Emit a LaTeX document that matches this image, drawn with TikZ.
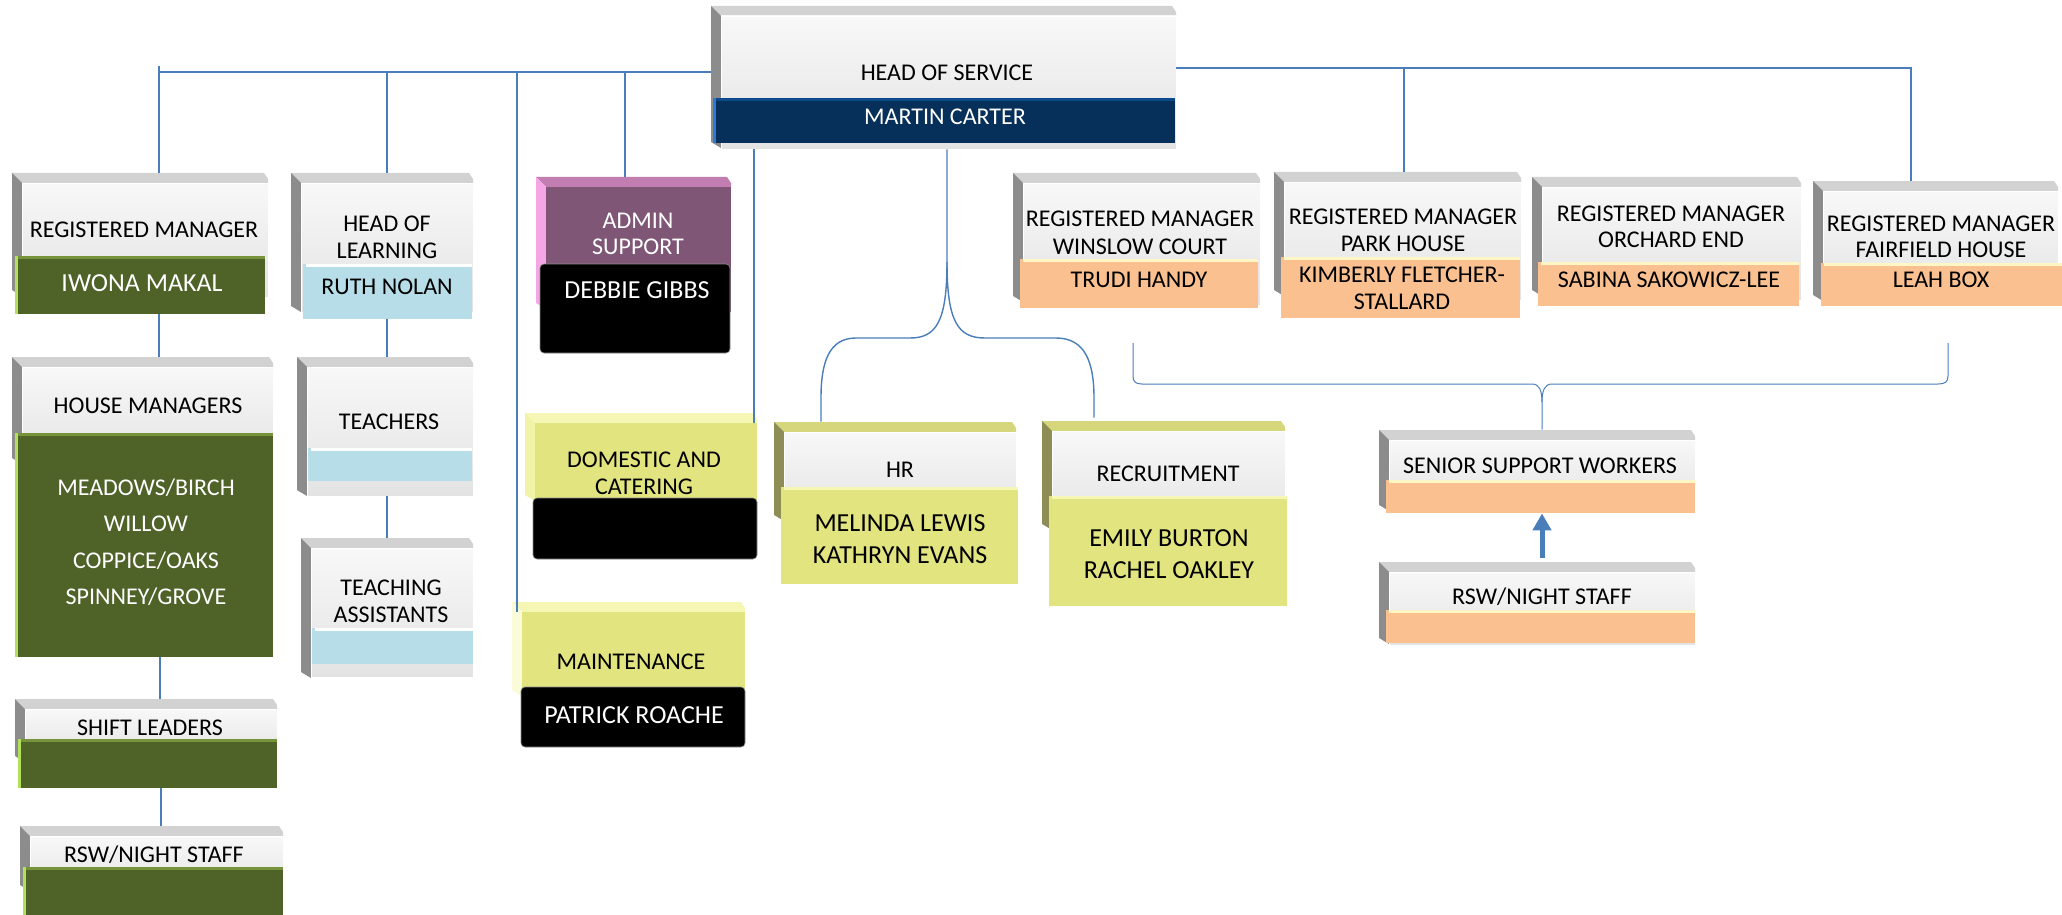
\documentclass[tikz,border=0pt]{standalone}
\usepackage{fontspec}
\setmainfont{Carlito}
\usetikzlibrary{fit,arrows.meta}

\definecolor{cLine}{HTML}{4A7EBB}
\definecolor{cGreen}{HTML}{4F6228}
\definecolor{cGreenTop}{HTML}{77933C}
\definecolor{cGreenEdge}{HTML}{B3E05C}
\definecolor{cBlue}{HTML}{B7DEE8}
\definecolor{cOrange}{HTML}{FAC090}
\definecolor{cOrangeTop}{HTML}{FFF6C6}
\definecolor{cYellow}{HTML}{E2E47F}
\definecolor{cYellowTop}{HTML}{F6F7B4}
\definecolor{cYellowSide}{HTML}{F1F3A6}
\definecolor{cYellowPale}{HTML}{FAFBD8}
\definecolor{cNavy}{HTML}{06305A}
\definecolor{cNavyTop}{HTML}{0C4A8A}
\definecolor{cNavyEdge}{HTML}{2B7BD6}
\definecolor{cPurple}{HTML}{7F5676}
\definecolor{cPinkTop}{HTML}{C27EB1}
\definecolor{cPinkSide}{HTML}{F5A6E6}
\definecolor{cBevTop}{HTML}{D2D2D2}
\definecolor{cBevSide}{HTML}{8C8C8C}
\definecolor{cOliveTop}{HTML}{D6D67C}
\definecolor{cOliveSide}{HTML}{8E8D55}
\definecolor{cFaceTop}{HTML}{F8F8F8}
\definecolor{cFaceBot}{HTML}{E3E3E3}

\tikzset{
  bevtop/.style={fill=cBevTop},
  bevside/.style={fill=cBevSide},
  face/.style={top color=cFaceTop, bottom color=cFaceBot, draw=white, line width=0.4pt},
  bandstyle/.style n args={3}{fill=#1, path picture={
      \fill[#2] (path picture bounding box.north west) rectangle ([yshift=-1.5pt]path picture bounding box.north east);
      \fill[#3] (path picture bounding box.north west) rectangle ([xshift=1.6pt]path picture bounding box.south west);}},
  greenband/.style={bandstyle={cGreen}{cGreenTop}{cGreenEdge}},
  blueband/.style={bandstyle={cBlue}{white}{cBlue}},
  orangeband/.style={bandstyle={cOrange}{cOrangeTop}{cOrange}},
  yellowband/.style={bandstyle={cYellow}{cYellowTop}{cYellow}},
  navyband/.style={bandstyle={cNavy}{cNavyTop}{cNavyEdge}},
  blackband/.style={fill=black, rounded corners=2pt, draw=black!45, line width=0.3pt},
  conn/.style={draw=cLine, line width=0.7pt},
  thinconn/.style={draw=cLine, line width=0.5pt},
  txt/.style={inner sep=0, anchor=base, font=\fontsize{12}{14}\selectfont},
  big/.style={font=\fontsize{13}{15}\selectfont},
  wtxt/.style={text=white},
}

% bevelled box: #1 name, #2 left, #3 top, #4 right, #5 face bottom, #6 side bevel bottom
\newcommand\orgshell[6]{%
  \fill[bevtop] (#2,#3) -- (#4-4,#3) -- (#4,#3+6) -- (#4,#3+10) -- (#2+10,#3+10) -- cycle;
  \fill[bevside] (#2,#3) -- (#2+10,#3+10) -- (#2+10,#6+6) -- (#2,#6) -- cycle;
  \node[face, inner sep=0, fit={(#2+10,#3+10) (#4,#5)}] (#1) {};
  \node[inner sep=0, fit={(#2,#3) (#4,#5)}] (#1o) {};
}
% coloured name band: #1 name, #2 left, #3 top, #4 right, #5 bottom, #6 style
\newcommand\orgband[6]{%
  \node[inner sep=0, fit={(#2,#3) (#4,#5)}, #6] (#1) {};
}

\begin{document}
\begin{tikzpicture}[x=0.5pt,y=-0.5pt]
\useasboundingbox (0,0) rectangle (2062,915);
\clip (0,0) rectangle (2062,915);

% ---------- head of service ----------
\orgshell{hos}{711}{6}{1176}{149}{142}
\orgband{hosb}{713}{98}{1175}{143}{navyband}
\node[txt] (hos-t) at (947,81) {HEAD OF SERVICE};
\node[txt,wtxt] (hos-n) at (945,125) {MARTIN CARTER};

% ---------- residential column ----------
\orgshell{rm}{12}{173}{268}{297}{290}
\orgband{rmb}{15}{256}{265}{314}{greenband}
\node[txt] (rm-t) at (144,237) {REGISTERED MANAGER};
\node[txt,big,wtxt] (rm-n) at (142,291) {IWONA MAKAL};

\orgshell{hm}{12}{357}{273}{465}{458}
\orgband{hmb}{15}{433}{273}{657}{greenband}
\node[txt] (hm-t) at (148,413) {HOUSE MANAGERS};
\node[txt,wtxt] (hm-n1) at (146,495) {MEADOWS/BIRCH};
\node[txt,wtxt] (hm-n2) at (146,531) {WILLOW};
\node[txt,wtxt] (hm-n3) at (146,568) {COPPICE/OAKS};
\node[txt,wtxt] (hm-n4) at (146,604) {SPINNEY/GROVE};

\orgshell{sl}{15}{699}{277}{760}{756}
\orgband{slb}{18}{739}{277}{788}{greenband}
\node[txt] (sl-t) at (150,735) {SHIFT LEADERS};

\orgshell{rswl}{20}{826}{283}{895}{885}
\orgband{rswlb}{23}{867}{283}{930}{greenband}
\node[txt] (rswl-t) at (154,862) {RSW/NIGHT STAFF};

% ---------- learning column ----------
\orgshell{hol}{291}{173}{473}{312}{306}
\orgband{holb}{303}{264}{472}{319}{blueband}
\node[txt] (hol-t1) at (387,231) {HEAD OF};
\node[txt] (hol-t2) at (387,258) {LEARNING};
\node[txt] (hol-n) at (387,294) {RUTH NOLAN};

\orgshell{tch}{297}{357}{473}{496}{490}
\orgband{tchb}{308}{448}{472}{481}{blueband}
\node[txt] (tch-t) at (389,429) {TEACHERS};

\orgshell{ta}{301}{538}{473}{677}{672}
\orgband{tab}{312}{628}{473}{664}{blueband}
\node[txt] (ta-t1) at (391,595) {TEACHING};
\node[txt] (ta-t2) at (391,622) {ASSISTANTS};

% ---------- admin support ----------
\begin{scope}[bevtop/.style={fill=cPinkTop}, bevside/.style={fill=cPinkSide}, face/.style={fill=cPurple}]
\orgshell{adm}{536}{177}{731}{312}{303}
\end{scope}
\orgband{admb}{540}{264}{730}{353}{blackband}
\node[txt,wtxt] (adm-t1) at (638,228) {ADMIN};
\node[txt,wtxt] (adm-t2) at (638,254) {SUPPORT};
\node[txt,big,wtxt] (adm-n) at (637,298) {DEBBIE GIBBS};

% ---------- domestic and maintenance ----------
\begin{scope}[bevtop/.style={fill=cYellowTop}, bevside/.style={fill=cYellowSide}, face/.style={fill=cYellow}]
\orgshell{dom}{525}{413}{757}{500}{495}
\end{scope}
\orgband{domb}{533}{498}{757}{559}{blackband}
\node[txt] (dom-t1) at (644,467) {DOMESTIC AND};
\node[txt] (dom-t2) at (644,494) {CATERING};

\begin{scope}[bevtop/.style={fill=cYellowTop}, bevside/.style={fill=cYellowPale}, face/.style={fill=cYellow}]
\orgshell{mnt}{512}{602}{745}{690}{690}
\end{scope}
\orgband{mntb}{521}{687}{745}{747}{blackband}
\node[txt] (mnt-t) at (631,669) {MAINTENANCE};
\node[txt,big,wtxt] (mnt-n) at (634,723) {PATRICK ROACHE};

% ---------- HR and recruitment ----------
\begin{scope}[bevtop/.style={fill=cOliveTop}, bevside/.style={fill=cOliveSide}]
\orgshell{hr}{774}{422}{1016}{520}{515}
\orgshell{rec}{1042}{421}{1285}{530}{524}
\end{scope}
\orgband{hrb}{781}{487}{1018}{584}{yellowband}
\node[txt] (hr-t) at (900,477) {HR};
\node[txt,big] (hr-n1) at (900,531) {MELINDA LEWIS};
\node[txt,big] (hr-n2) at (900,563) {KATHRYN EVANS};
\orgband{recb}{1049}{496}{1287}{606}{yellowband}
\node[txt] (rec-t) at (1168,481) {RECRUITMENT};
\node[txt,big] (rec-n1) at (1169,546) {EMILY BURTON};
\node[txt,big] (rec-n2) at (1169,578) {RACHEL OAKLEY};

% ---------- registered managers of the houses ----------
\orgshell{wc}{1013}{173}{1260}{305}{296}
\orgband{wcb}{1020}{259}{1258}{308}{orangeband}
\node[txt] (wc-t1) at (1140,227) {REGISTERED MANAGER};
\node[txt] (wc-t2) at (1140,254) {WINSLOW COURT};
\node[txt] (wc-n) at (1139,287) {TRUDI HANDY};

\orgshell{ph}{1274}{172}{1521}{300}{290}
\orgband{phb}{1281}{257}{1520}{318}{orangeband}
\node[txt] (ph-t1) at (1403,224) {REGISTERED MANAGER};
\node[txt] (ph-t2) at (1403,251) {PARK HOUSE};
\node[txt] (ph-n1) at (1402,282) {KIMBERLY FLETCHER-};
\node[txt] (ph-n2) at (1402,309) {STALLARD};

\orgshell{oe}{1532}{177}{1801}{300}{290}
\orgband{oeb}{1538}{262}{1799}{306}{orangeband}
\node[txt] (oe-t1) at (1671,221) {REGISTERED MANAGER};
\node[txt] (oe-t2) at (1671,247) {ORCHARD END};
\node[txt] (oe-n) at (1669,287) {SABINA SAKOWICZ-LEE};

\orgshell{ff}{1813}{181}{2058}{300}{295}
\orgband{ffb}{1821}{263}{2062}{306}{orangeband}
\node[txt] (ff-t1) at (1941,231) {REGISTERED MANAGER};
\node[txt] (ff-t2) at (1941,257) {FAIRFIELD HOUSE};
\node[txt] (ff-n) at (1941,287) {LEAH BOX};

\orgshell{ssw}{1379}{430}{1695}{510}{505}
\orgband{sswb}{1386}{480}{1695}{513}{orangeband}
\node[txt] (ssw-t) at (1540,473) {SENIOR SUPPORT WORKERS};

\orgshell{rswr}{1379}{562}{1695}{645}{638}
\orgband{rswrb}{1386}{610}{1695}{643}{orangeband}
\node[txt] (rswr-t) at (1542,604) {RSW/NIGHT STAFF};

% ---------- connectors ----------
\coordinate (busL) at (159,72);
\coordinate (busLtop) at (159,66);
\coordinate (busR) at (1911,68);
\coordinate (dHOL) at (387,72);
\coordinate (dMNT) at (517,72);
\coordinate (dADM) at (625,72);
\coordinate (dPH) at (1404,68);
\coordinate (dDOM) at (754,0);
\coordinate (dHR) at (947,0);
\coordinate (hrL) at (821,0);
\coordinate (recR) at (1094,0);
\coordinate (cL) at (159,0);
\coordinate (cT) at (387,0);

\draw[conn] (busL) -- (busL -| hoso.west);
\draw[conn] (busLtop) -- (busLtop |- rmo.north);
\draw[conn] (dHOL) -- (dHOL |- holo.north);
\draw[conn] (dMNT) -- (dMNT |- mnt.north);
\draw[conn] (dADM) -- (dADM |- admo.north);
\draw[conn] (busR -| hoso.east) -- (busR) -- (busR |- ffo.north);
\draw[conn] (dPH) -- (dPH |- pho.north);
\draw[conn] (dDOM |- hoso.south) -- (dDOM |- dom.north);

\draw[conn] (cL |- rmb.south) -- (cL |- hmo.north);
\draw[conn] ([xshift=0.5pt]cL |- hmb.south) -- ([xshift=0.5pt]cL |- slo.north);
\draw[conn] ([xshift=1pt]cL |- slb.south) -- ([xshift=1pt]cL |- rswlo.north);
\draw[conn] (cT |- holb.south) -- (cT |- tcho.north);
\draw[conn] (cT |- tcho.south) -- (cT |- tao.north);

% branching line to HR and recruitment
\draw[conn] (dHR |- hoso.south) -- (947,262)
  .. controls (947,322) and (936,338) .. (910,338) -- (856,338)
  .. controls (829,338) and (821,362) .. (821,398) -- (hrL |- hro.north);
\draw[conn] (947,262)
  .. controls (947,322) and (958,338) .. (985,338) -- (1056,338)
  .. controls (1085,338) and (1094,362) .. (1094,398) -- ([yshift=1.5pt]recR |- reco.north);

% bracket from the house managers to the senior support workers
\coordinate (lbL) at (1133,343);
\coordinate (lbR) at (1948,343);
\coordinate (lbM) at (1542,0);
\draw[thinconn] (lbL) -- (1133,376) .. controls (1133,382) and (1136,384) .. (1142,384)
  -- (1532,384) .. controls (1539,384) and (1542,390) .. (1542,402) -- (lbM |- sswo.north);
\draw[thinconn] (lbR) -- (1948,376) .. controls (1948,382) and (1945,384) .. (1938,384)
  -- (1552,384) .. controls (1545,384) and (1542,390) .. (1542,402);

% night staff report up to the senior support workers
\draw[draw=cLine, line width=2.5pt, -{Triangle[width=9pt,length=8.5pt]}]
  ([yshift=2pt]lbM |- rswro.north) -- (lbM |- sswb.south);

\end{tikzpicture}
\end{document}
